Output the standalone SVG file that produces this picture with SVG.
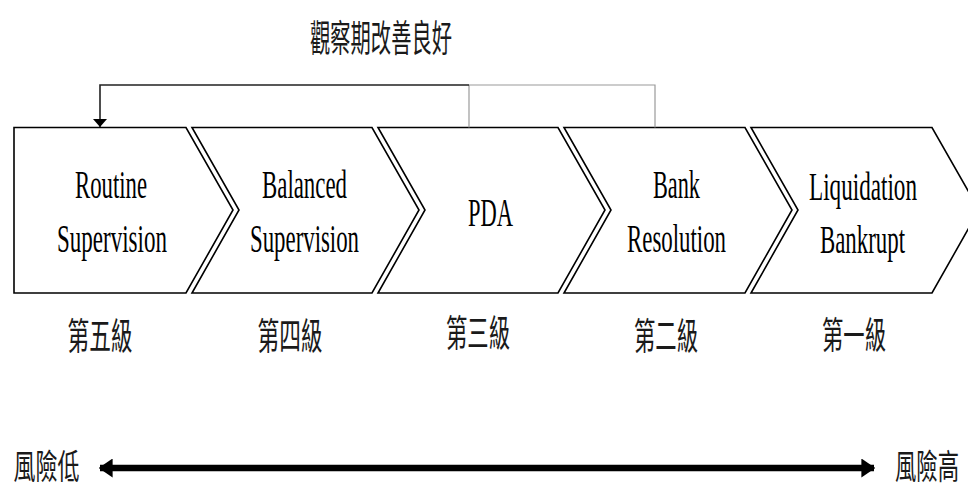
<svg xmlns="http://www.w3.org/2000/svg" width="968" height="487" viewBox="0 0 968 487">
<style>
.chev{fill:#fff;stroke:#000;stroke-width:1.6;stroke-linejoin:miter}
.lat{font-family:"Liberation Serif","Times New Roman",serif;font-size:39px;fill:#000;text-anchor:middle}
.cjk{font-family:"Liberation Serif","Noto Sans CJK TC",serif;font-size:37px;fill:#1a1a1a;text-anchor:middle}
.low{font-size:34px}
.fb{fill:none;stroke:#222;stroke-width:1.6}
.fg{fill:none;stroke:#9a9a9a;stroke-width:1.2}
</style>
<defs>
<marker id="ah" viewBox="0 0 10 10" refX="10" refY="5" markerWidth="8" markerHeight="14" markerUnits="userSpaceOnUse" orient="auto" preserveAspectRatio="none">
<path d="M0,0 L10,5 L0,10 Z" fill="#000"/>
</marker>
<marker id="big" viewBox="0 0 10 10" refX="9" refY="5" markerWidth="14" markerHeight="19" markerUnits="userSpaceOnUse" orient="auto-start-reverse" preserveAspectRatio="none">
<path d="M0,0 L10,5 L0,10 Z" fill="#000"/>
</marker>
</defs>
<rect width="968" height="487" fill="#fff"/>
<text class="cjk" x="381" y="52" textLength="142" lengthAdjust="spacingAndGlyphs">觀察期改善良好</text>
<g id="n1">
<polygon class="chev" points="14,127.5 186,127.5 233,210 186,293 14,293"/>
<text class="lat" x="111" y="198" textLength="72" lengthAdjust="spacingAndGlyphs">Routine</text>
<text class="lat" x="112" y="252" textLength="110" lengthAdjust="spacingAndGlyphs">Supervision</text>
<text class="cjk" x="100" y="350" textLength="65" lengthAdjust="spacingAndGlyphs">第五級</text>
</g>
<g id="n2">
<polygon class="chev" points="192,127.5 372,127.5 419,210 372,293 192,293 239,210"/>
<text class="lat" x="304.5" y="198" textLength="85" lengthAdjust="spacingAndGlyphs">Balanced</text>
<text class="lat" x="304.5" y="252" textLength="109" lengthAdjust="spacingAndGlyphs">Supervision</text>
<text class="cjk" x="290" y="350" textLength="65" lengthAdjust="spacingAndGlyphs">第四級</text>
</g>
<g id="n3">
<polygon class="chev" points="378,127.5 558,127.5 605,210 558,293 378,293 425,210"/>
<text class="lat" x="490.5" y="226" textLength="45" lengthAdjust="spacingAndGlyphs">PDA</text>
<text class="cjk" x="478" y="347" textLength="64" lengthAdjust="spacingAndGlyphs">第三級</text>
</g>
<g id="n4">
<polygon class="chev" points="564,127.5 745,127.5 792,210 745,293 564,293 611,210"/>
<text class="lat" x="676.5" y="198" textLength="47" lengthAdjust="spacingAndGlyphs">Bank</text>
<text class="lat" x="676.5" y="252" textLength="99" lengthAdjust="spacingAndGlyphs">Resolution</text>
<text class="cjk" x="666" y="350" textLength="64" lengthAdjust="spacingAndGlyphs">第二級</text>
</g>
<g id="n5">
<polygon class="chev" points="751,127.5 932,127.5 979,210 932,293 751,293 798,210"/>
<text class="lat" x="863" y="200" textLength="108" lengthAdjust="spacingAndGlyphs">Liquidation</text>
<text class="lat" x="862.5" y="253" textLength="85" lengthAdjust="spacingAndGlyphs">Bankrupt</text>
<text class="cjk" x="854" y="349" textLength="64" lengthAdjust="spacingAndGlyphs">第一級</text>
</g>
<g id="connectors">
<path class="fg" d="M655,127.5 V85 H469"/>
<path class="fg" d="M469,127.5 V85"/>
<path class="fb" d="M469,85 H100 V127" marker-end="url(#ah)"/>
<line x1="100" y1="468" x2="874" y2="468" stroke="#000" stroke-width="6.5" marker-start="url(#big)" marker-end="url(#big)"/>
</g>
<text class="cjk low" x="46.5" y="479" textLength="66" lengthAdjust="spacingAndGlyphs">風險低</text>
<text class="cjk low" x="927" y="479" textLength="64" lengthAdjust="spacingAndGlyphs">風險高</text>
</svg>
